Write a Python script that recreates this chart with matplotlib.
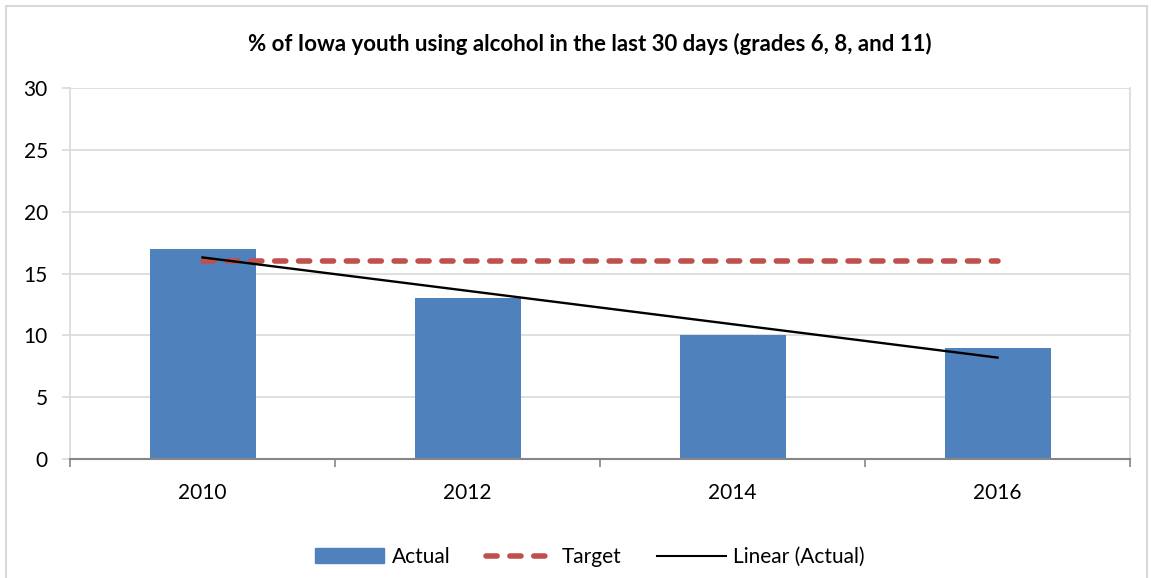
import numpy as np
import matplotlib.pyplot as plt
from matplotlib.patches import Rectangle
from matplotlib.lines import Line2D

plt.rcParams['font.family'] = ['Lato', 'DejaVu Sans']

years = ['2010', '2012', '2014', '2016']
actual = [17, 13, 10, 9]
target = [16, 16, 16, 16]

x = np.arange(len(years))
# Excel style linear trendline on Actual
slope, icpt = np.polyfit(x, actual, 1)
trend = slope * x + icpt

fig = plt.figure(figsize=(11.52, 5.78), dpi=100)
ax = fig.add_axes([70/1152, 1 - 459/578, 1060/1152, 371/578])

# outer chart border
fig.patches.append(Rectangle((6/1152, -0.01), 1141/1152, 1 - 6/578 + 0.01,
                             transform=fig.transFigure, fill=False,
                             edgecolor='#D9D9D9', linewidth=1.5))

dash = (0, (2.0, 2.3))

ax.set_axisbelow(True)
ax.yaxis.grid(True, color='#D9D9D9', linewidth=1.2)
ax.bar(x, actual, width=0.4, color='#4F81BD', label='Actual', zorder=2)
ax.plot(x, target, color='#C0504D', linestyle=dash, linewidth=4,
        dash_capstyle='round', label='Target', zorder=3)
ax.plot(x, trend, color='black', linewidth=1.7, label='Linear (Actual)', zorder=4)

ax.set_xlim(-0.5, 3.5)
ax.set_ylim(0, 30)
ax.set_yticks(range(0, 31, 5))
ax.set_xticks(x)
ax.set_xticklabels(years)
ax.set_xticks(np.arange(-0.5, 4, 1), minor=True)
ax.tick_params(axis='x', which='major', length=0, pad=17, labelsize=15)
ax.tick_params(axis='x', which='minor', length=6, width=1.2, color='#868686', direction='out')
ax.tick_params(axis='y', length=6, width=1.2, color='#D9D9D9', pad=10, labelsize=15)

for s in ['left', 'right']:
    ax.spines[s].set_color('#D9D9D9')
    ax.spines[s].set_linewidth(1.2)
ax.spines['top'].set_visible(False)
ax.spines['bottom'].set_color('#868686')
ax.spines['bottom'].set_linewidth(1.5)

fig.text(590/1152, 1 - 44/578, '% of Iowa youth using alcohol in the last 30 days (grades 6, 8, and 11)',
         ha='center', va='center', fontsize=16, fontweight='bold')

handles = [Rectangle((0, 0), 1, 1, color='#4F81BD'),
           Line2D([], [], color='#C0504D', linestyle=dash, linewidth=4, dash_capstyle='round'),
           Line2D([], [], color='black', linewidth=1.5)]
fig.legend(handles, ['Actual', 'Target', 'Linear (Actual)'], loc='center',
           bbox_to_anchor=(590/1152, 1 - 557/578), ncol=3, frameon=False,
           fontsize=15, handlelength=3.3, handleheight=0.7, columnspacing=1.7, handletextpad=0.35)

fig.savefig('out.png', dpi=100)
